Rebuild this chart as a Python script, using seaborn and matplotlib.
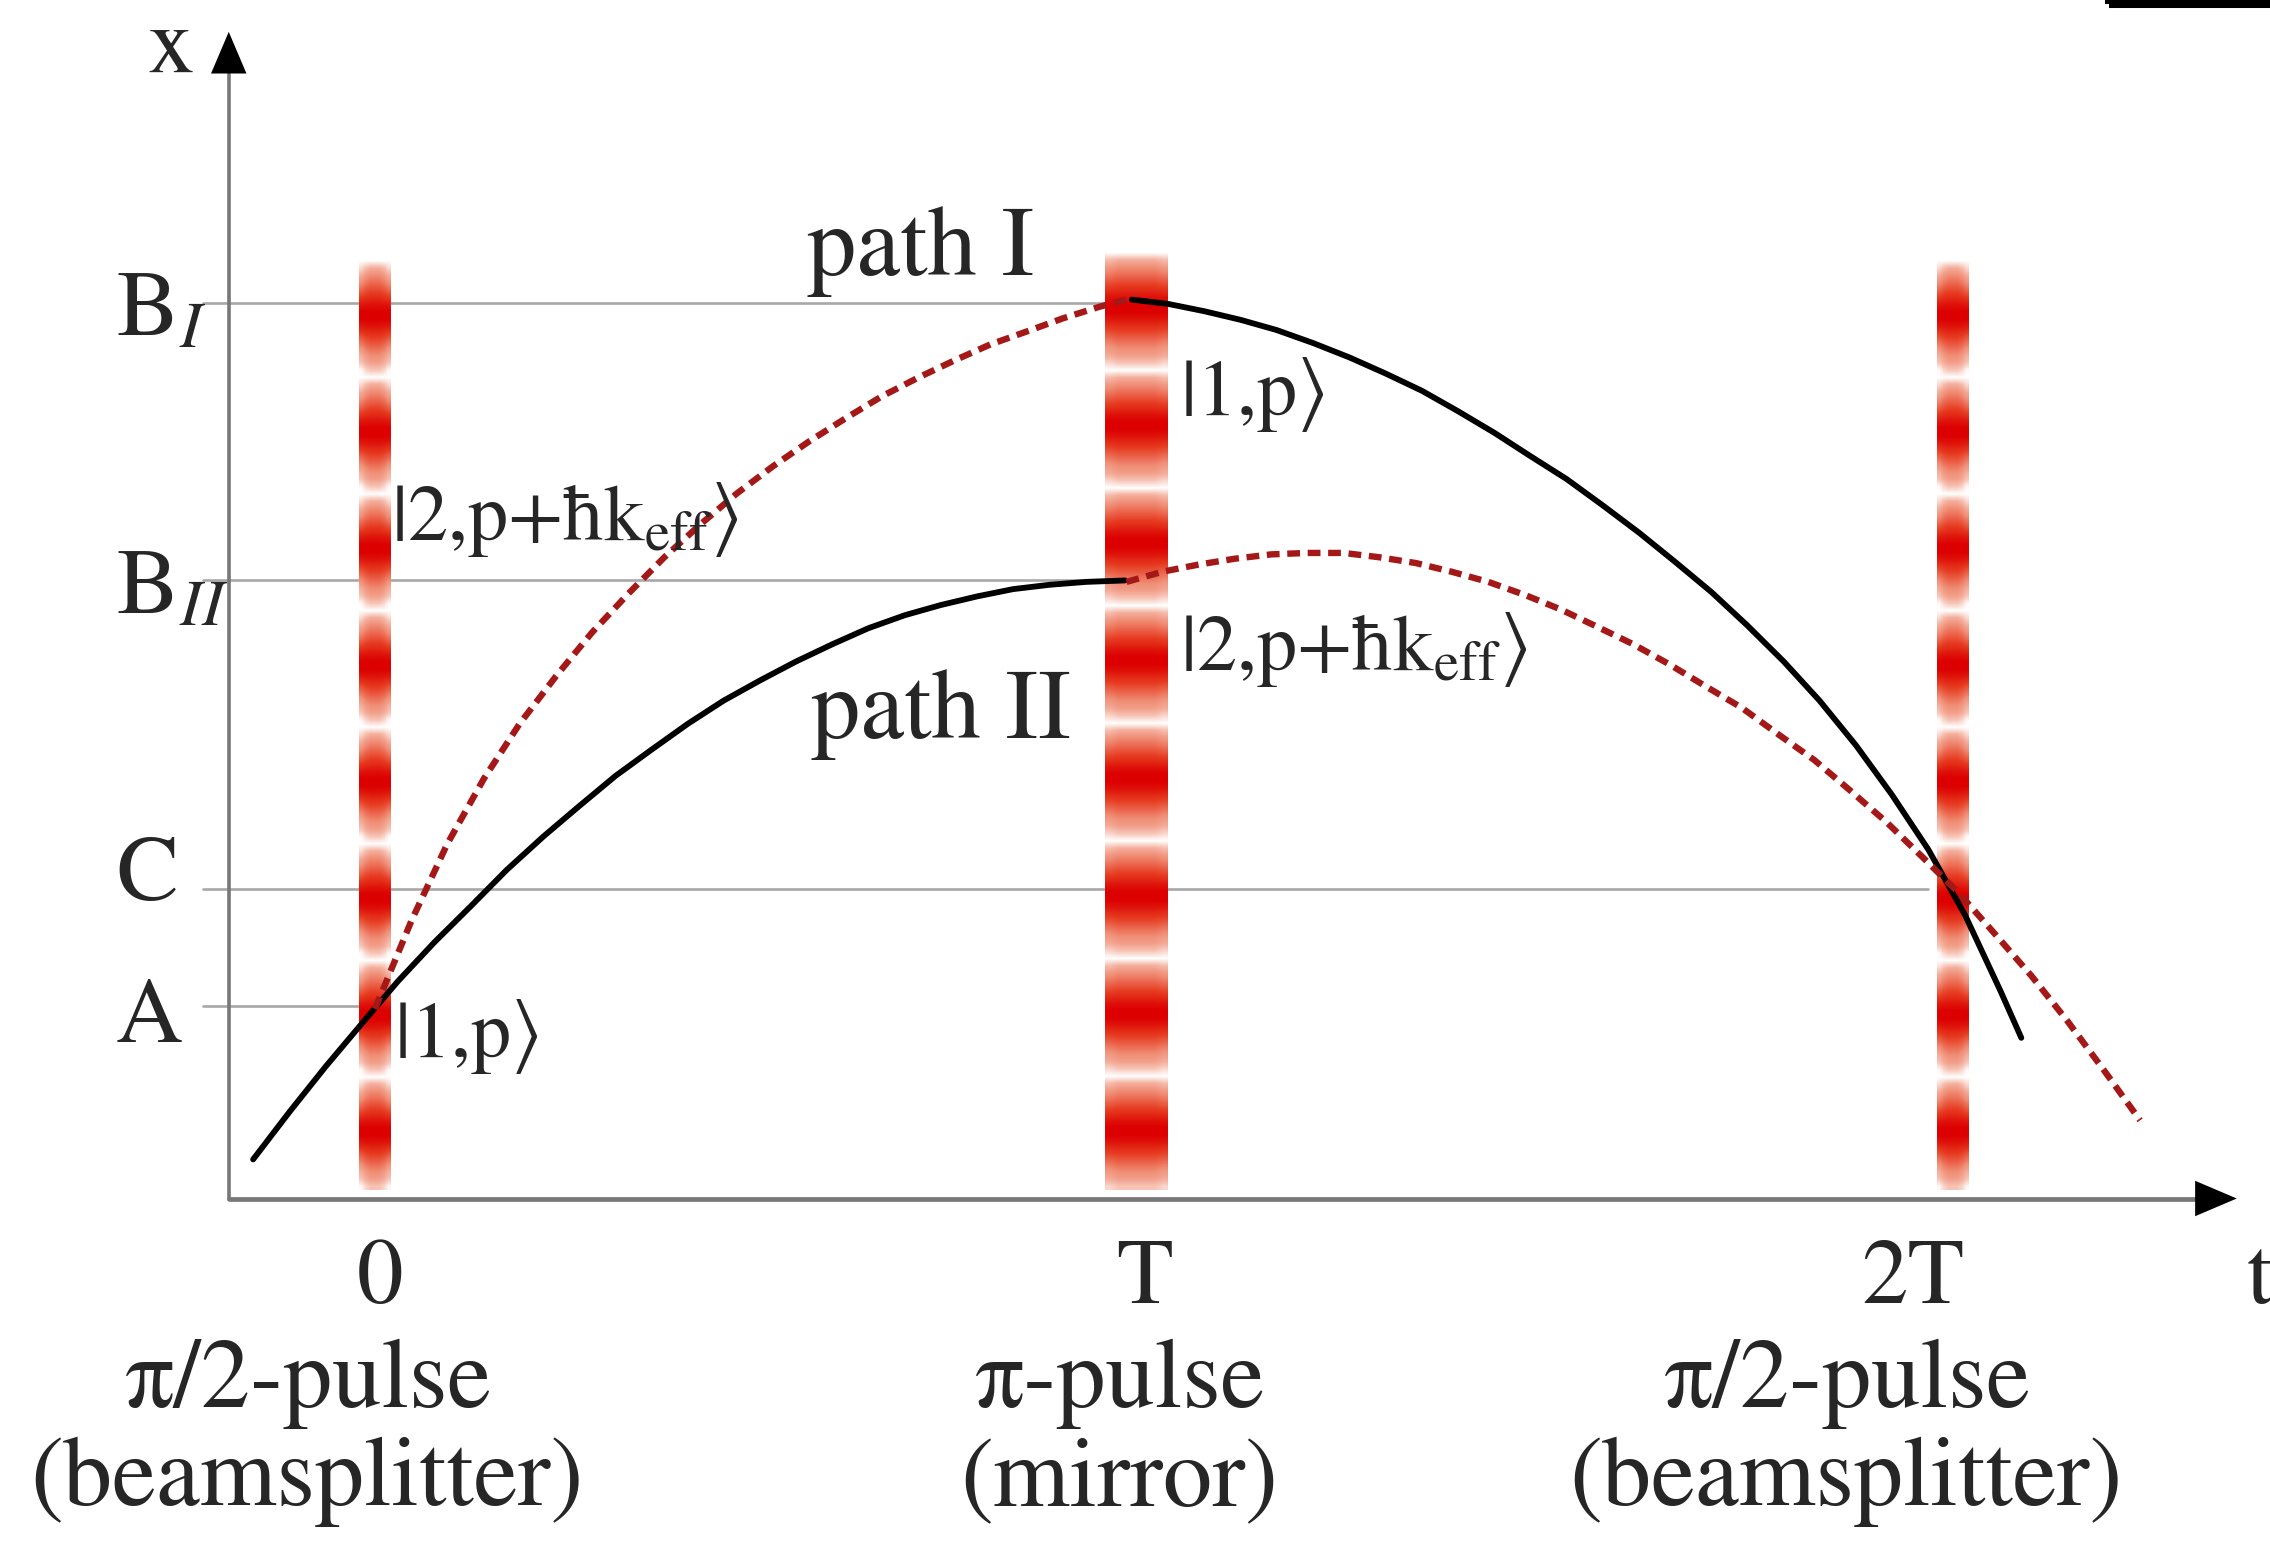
import numpy as np
import pandas as pd
import seaborn as sns
import matplotlib.pyplot as plt
from matplotlib.colors import LinearSegmentedColormap
from matplotlib.patches import Rectangle

# time in units of T, height in arbitrary units
pulse_t = [0.0, 1.0, 2.072]
pulse_halfwidth = [0.021, 0.041, 0.021]
pulse_top = [6.50, 6.56, 6.50]
pulse_bottom = 0.06
n_stripes = 8
stripe_profile = [0.0, 0.35, 0.5, 0.6, 0.7, 0.8, 0.92, 1.0,
                  1.0, 0.92, 0.8, 0.7, 0.6, 0.5, 0.42, 0.25]
pinch_narrow = [0.7, 0.9, 1.0, 1.0, 1.0, 0.9, 0.7]
pinch_wide = [0.9, 1.0, 1.0, 1.0, 1.0, 1.0, 0.9]

level_names = ["B$_{I}$", "B$_{II}$", "C", "A"]
level_z = [6.19, 4.27, 2.14, 1.33]
level_end = [1.0, 0.95, 2.04, 0.0]
level_label_z = [5.96, 4.04, 2.06, 1.08]

# path II before the mirror pulse (solid)
p2a_t = [-0.160, -0.112, -0.065, -0.017, 0.030, 0.078, 0.126, 0.173, 0.221,
         0.268, 0.316, 0.363, 0.411, 0.458, 0.506, 0.553, 0.601, 0.648,
         0.696, 0.743, 0.791, 0.838, 0.886, 0.934, 0.985]
p2a_z = [0.27, 0.60, 0.91, 1.21, 1.50, 1.77, 2.02, 2.27, 2.50,
         2.71, 2.92, 3.10, 3.28, 3.44, 3.58, 3.71, 3.83, 3.94,
         4.03, 4.10, 4.16, 4.21, 4.24, 4.26, 4.27]
# path I before the mirror pulse (dashed)
p1a_t = [0.000, 0.048, 0.095, 0.143, 0.190, 0.238, 0.285, 0.333, 0.380,
         0.428, 0.475, 0.523, 0.570, 0.618, 0.665, 0.713, 0.761, 0.808,
         0.856, 0.903, 0.951, 0.987]
p1a_z = [1.31, 1.92, 2.45, 2.90, 3.28, 3.61, 3.91, 4.18, 4.43,
         4.66, 4.87, 5.06, 5.23, 5.39, 5.54, 5.67, 5.79, 5.90,
         5.99, 6.08, 6.16, 6.21]
# path I after the mirror pulse (solid)
p1b_t = [0.994, 1.042, 1.089, 1.137, 1.184, 1.232, 1.280, 1.327, 1.375,
         1.422, 1.470, 1.517, 1.565, 1.612, 1.660, 1.707, 1.755, 1.802,
         1.850, 1.897, 1.945, 1.992, 2.040, 2.088, 2.135, 2.162]
p1b_z = [6.21, 6.18, 6.13, 6.07, 6.00, 5.91, 5.81, 5.70, 5.58,
         5.44, 5.29, 5.13, 4.97, 4.79, 4.60, 4.40, 4.19, 3.96,
         3.71, 3.44, 3.13, 2.79, 2.41, 1.96, 1.43, 1.11]
# path II after the mirror pulse (dashed)
p2b_t = [0.987, 1.034, 1.082, 1.129, 1.177, 1.224, 1.272, 1.319, 1.367,
         1.414, 1.462, 1.510, 1.557, 1.605, 1.652, 1.700, 1.747, 1.795,
         1.842, 1.890, 1.937, 1.985, 2.032, 2.080, 2.127, 2.175, 2.222,
         2.270, 2.318]
p2b_z = [4.26, 4.33, 4.38, 4.42, 4.45, 4.46, 4.46, 4.43, 4.39,
         4.33, 4.26, 4.17, 4.07, 3.95, 3.83, 3.69, 3.54, 3.39,
         3.21, 3.03, 2.82, 2.60, 2.36, 2.11, 1.83, 1.54, 1.23,
         0.89, 0.54]

tick_t = [0.006, 1.01, 2.02]
tick_labels = ["0", "T", "2T"]
pulse_label_t = [-0.089, 0.977, 1.932]
pulse_line1 = ["π/2-pulse", "π-pulse", "π/2-pulse"]
pulse_line2 = ["(beamsplitter)", "(mirror)", "(beamsplitter)"]

state_labels = ["|1,p$\\rangle$", "|2,p+ħk$_{\\rm eff}\\rangle$",
                "|2,p+ħk$_{\\rm eff}\\rangle$", "|1,p$\\rangle$"]
state_t = [1.057, 1.057, 0.021, 0.025]
state_z = [5.41, 3.65, 4.55, 0.98]

sns.set_theme(style="white")
plt.rcParams["font.family"] = ["STIXGeneral", "Liberation Serif", "DejaVu Serif"]
plt.rcParams["mathtext.fontset"] = "stix"

fig = plt.figure(figsize=(22.7, 15.43), dpi=100)
ax = fig.add_axes([0, 0, 1, 1])
ax.set_axis_off()

axis_t = -0.192
axis_gray = "#777777"
red = "#a51818"
big = 71
mid = 67
small = 58

# thin guide levels
for z, end in zip(level_z, level_end):
    ax.plot([-0.226, end], [z, z], color="#a8a8a8", lw=1.9, zorder=1)

# laser pulses
cmap = LinearSegmentedColormap.from_list(
    "pulse", ["#ffffff", "#f7c4b6", "#f08d75", "#e63a20", "#dc0000"])
column = np.tile(stripe_profile, n_stripes)
for t0, hw, top, pinch in zip(pulse_t, pulse_halfwidth, pulse_top,
                              [pinch_narrow, pinch_wide, pinch_narrow]):
    edge = np.array(pinch)
    img = np.clip(column[:, None] - (1 - edge[None, :]) * (1 - column[:, None]), 0, 1)
    ax.imshow(img, cmap=cmap, vmin=0, vmax=1, aspect="auto",
              interpolation="bilinear",
              extent=(t0 - hw, t0 + hw, pulse_bottom, top), zorder=2)

# trajectories
dash = (0, (2.0, 1.2))
segments = [
    (p2a_t, p2a_z, "black", "-", 4.2),
    (p1a_t, p1a_z, red, dash, 4.6),
    (p1b_t, p1b_z, "black", "-", 4.2),
    (p2b_t, p2b_z, red, dash, 4.6),
]
for ts, zs, col, ls, w in segments:
    seg = pd.DataFrame({"t": ts, "z": zs})
    sns.lineplot(data=seg, x="t", y="z", sort=False, estimator=None, ax=ax,
                 color=col, lw=w, linestyle=ls, zorder=4,
                 solid_joinstyle="round")

# axes with arrows
ytip, xtip = 8.06, 2.445
ax.plot([axis_t, axis_t], [0, ytip - 0.25], color=axis_gray, lw=2.6, zorder=3)
ax.plot([axis_t, xtip - 0.05], [0, 0], color=axis_gray, lw=3.4, zorder=3)
head = "-|>,head_length=0.4,head_width=0.17"
ax.annotate("", xy=(axis_t, ytip), xytext=(axis_t, ytip - 0.2),
            arrowprops=dict(arrowstyle=head, mutation_scale=75, color="black",
                            lw=0, shrinkA=0, shrinkB=0), zorder=5)
ax.annotate("", xy=(xtip, 0), xytext=(xtip - 0.04, 0),
            arrowprops=dict(arrowstyle=head, mutation_scale=75, color="black",
                            lw=0, shrinkA=0, shrinkB=0), zorder=5)
ax.text(-0.268, 7.78, "x", fontsize=mid, ha="center", va="baseline")
ax.text(2.458, -0.72, "t", fontsize=mid, ha="left", va="baseline")

for name, z in zip(level_names, level_label_z):
    ax.text(-0.340, z, name, fontsize=mid, ha="left", va="baseline")

for t, lab in zip(tick_t, tick_labels):
    ax.text(t, -0.72, lab, fontsize=mid, ha="center", va="baseline")
for t, l1, l2 in zip(pulse_label_t, pulse_line1, pulse_line2):
    ax.text(t, -1.44, l1, fontsize=big, ha="center", va="baseline")
    ax.text(t, -2.12, l2, fontsize=big, ha="center", va="baseline")

ax.text(0.568, 6.38, "path I", fontsize=big, ha="left", va="baseline")
ax.text(0.572, 3.18, "path II", fontsize=big, ha="left", va="baseline")
for lab, t, z in zip(state_labels, state_t, state_z):
    ax.text(t, z, lab, fontsize=small, ha="left", va="baseline", zorder=6)

# frame corner cut off at the top right
ax.add_patch(Rectangle((2.277, 8.252), 1.0, 1.0, fill=False, ec="black", lw=5.8))

ax.set_xlim(-0.4924, 2.4886)
ax.set_ylim(-2.38, 8.28)
fig.savefig("out.png", dpi=100)
